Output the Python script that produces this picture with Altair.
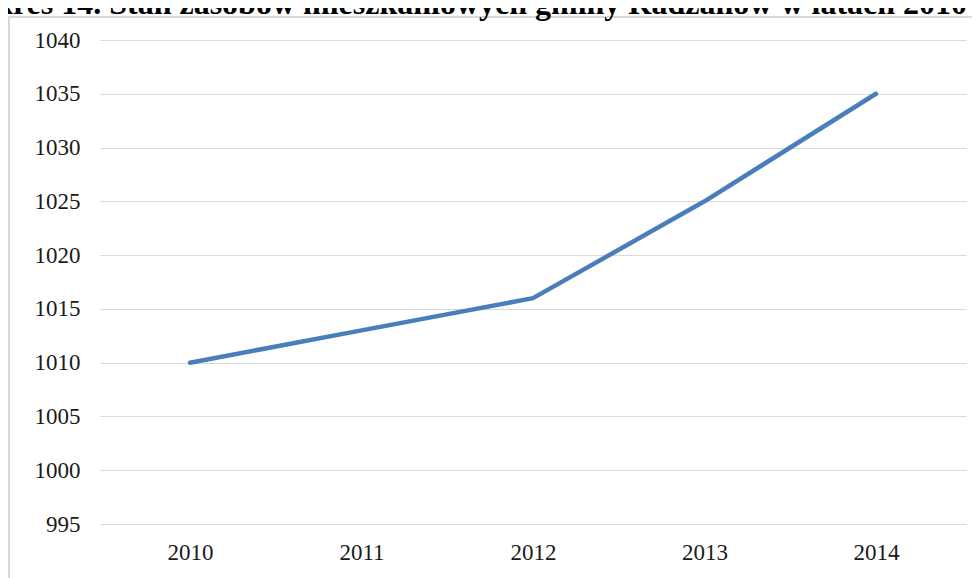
import altair as alt
import pandas as pd

years = ["2010", "2011", "2012", "2013", "2014"]
values = [1010, 1013, 1016, 1025, 1035]
title_text = "Wykres 14. Stan zasobów mieszkaniowych gminy Radzanów w latach 2010-2014"

df = pd.DataFrame({"rok": years, "wartosc": values})
one = pd.DataFrame({"t": [title_text]})

FONT = "Liberation Serif"

x = alt.X("rok:N", sort=years, title=None,
          scale=alt.Scale(type="point", padding=0.525),
          axis=alt.Axis(labelAngle=0, labelFont=FONT, labelFontSize=23,
                        labelColor="#1a1a1a", labelPadding=17, ticks=False,
                        domain=False, grid=False))
y = alt.Y("wartosc:Q", title=None,
          scale=alt.Scale(domain=[995, 1040], nice=False, zero=False),
          axis=alt.Axis(values=list(range(995, 1041, 5)), format="d",
                        labelFont=FONT, labelFontSize=23, labelColor="#1a1a1a",
                        labelPadding=20, ticks=False, domain=False,
                        gridColor="#d9d9d9", gridWidth=1))

line = alt.Chart(df).mark_line(color="#4a7ebb", strokeWidth=4.5,
                               strokeCap="round", strokeJoin="round").encode(x=x, y=y)

frame = alt.Chart(one).mark_rect(fill=None, stroke="#d9d9d9", strokeWidth=2,
                                 clip=False).encode(
    x=alt.value(-91), x2=alt.value(1200), y=alt.value(-23), y2=alt.value(1200))

title = alt.Chart(one).mark_text(font=FONT, fontSize=32, fontWeight="bold",
                                 align="center", baseline="alphabetic",
                                 color="#000000", clip=False).encode(
    text="t:N", x=alt.value(395), y=alt.value(-26))

chart = alt.layer(frame, line, title).properties(
    width=866, height=484,
    autosize=alt.AutoSizeParams(type="none"),
    padding={"left": 92, "top": 32, "right": 6, "bottom": 54},
).configure_view(stroke=None)

chart.save("out.html", embed_options={"renderer": "svg", "actions": False})
